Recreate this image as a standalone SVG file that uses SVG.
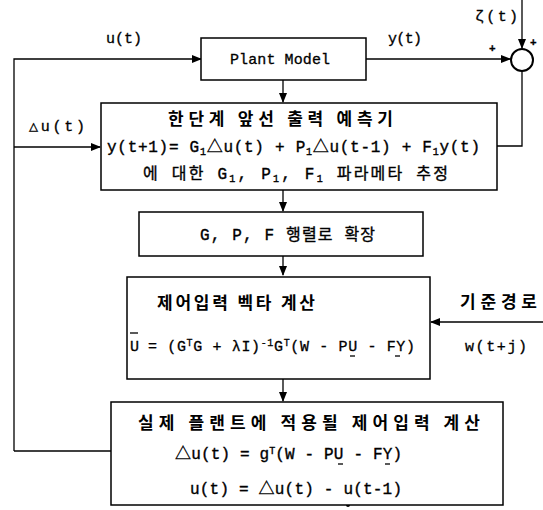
<svg xmlns="http://www.w3.org/2000/svg" width="543" height="510" viewBox="0 0 543 510">
<style>
.box{fill:#fff;stroke:#000;stroke-width:1.5}
.ln{fill:none;stroke:#000;stroke-width:1.3}
.t{font-family:'Liberation Mono','DejaVu Sans Mono','Noto Sans CJK KR',monospace;font-size:15px;fill:#000;stroke:#000;stroke-width:0.3}
.k{font-family:'Noto Sans CJK KR',sans-serif;font-size:17px;font-weight:bold;fill:#000}
.m{font-family:'Liberation Mono','Noto Sans CJK KR',monospace;font-size:16px;fill:#000;stroke:#000;stroke-width:0.35}
.s{font-size:10px}
</style>
<defs>
<marker id="ah" markerUnits="userSpaceOnUse" markerWidth="10" markerHeight="8" refX="9" refY="4" orient="auto">
<path d="M0,0 L10,4 L0,8 z" fill="#000"/>
</marker>
</defs>
<g id="connectors">
<path class="ln" d="M14,451 L14,59 L201,59" marker-end="url(#ah)"/>
<path class="ln" d="M14,147 L100,147" marker-end="url(#ah)"/>
<path class="ln" d="M111,451 L14,451"/>
<path class="ln" d="M366,59 L510,59" marker-end="url(#ah)"/>
<path class="ln" d="M522,0 L522,48" marker-end="url(#ah)"/>
<path class="ln" d="M522,71 L522,146 L497,146"/>
<path class="ln" d="M283,80 L283,102" marker-end="url(#ah)"/>
<path class="ln" d="M283,190 L283,211" marker-end="url(#ah)"/>
<path class="ln" d="M283,256 L283,275" marker-end="url(#ah)"/>
<path class="ln" d="M283,379 L283,401" marker-end="url(#ah)"/>
<path class="ln" d="M543,322 L431,322" marker-end="url(#ah)"/>
<circle cx="348" cy="505" r="2" fill="#000"/>
</g>
<g id="sum">
<circle cx="522" cy="60" r="11" fill="#fff" stroke="#000" stroke-width="2"/>
<text class="t" x="489" y="52" style="font-size:11px;font-weight:bold">+</text>
<text class="t" x="530" y="46" style="font-size:11px;font-weight:bold">+</text>
</g>
<g id="labels">
<text class="t" x="475" y="21" textLength="43" lengthAdjust="spacing">ζ(t)</text>
<text class="t" x="106" y="43" textLength="36" lengthAdjust="spacing">u(t)</text>
<text class="t" x="388" y="43" textLength="34" lengthAdjust="spacing">y(t)</text>
<text class="t" x="29" y="131" textLength="56" lengthAdjust="spacing">△u(t)</text>
<text class="k" x="460" y="308" textLength="77" lengthAdjust="spacing">기준경로</text>
<text class="t" x="465" y="351" textLength="62" lengthAdjust="spacing">w(t+j)</text>
</g>
<g id="plant">
<rect class="box" x="201" y="38" width="165" height="42"/>
<text class="t" x="230" y="64" textLength="100" lengthAdjust="spacing">Plant Model</text>
</g>
<g id="predictor">
<rect class="box" x="101" y="103" width="396" height="87"/>
<text class="k" x="168" y="125" textLength="225" lengthAdjust="spacing">한단계 앞선 출력 예측기</text>
<text class="m" x="107" y="152" textLength="373" lengthAdjust="spacing">y(t+1)= G<tspan class="s" dy="3">1</tspan><tspan dy="-3">△u(t) + P</tspan><tspan class="s" dy="3">1</tspan><tspan dy="-3">△u(t-1) + F</tspan><tspan class="s" dy="3">1</tspan><tspan dy="-3">y(t)</tspan></text>
<text class="m" x="143" y="179" textLength="305" lengthAdjust="spacing">에 대한 G<tspan class="s" dy="3">1</tspan><tspan dy="-3">, P</tspan><tspan class="s" dy="3">1</tspan><tspan dy="-3">, F</tspan><tspan class="s" dy="3">1</tspan><tspan dy="-3"> 파라메타 추정</tspan></text>
</g>
<g id="expand">
<rect class="box" x="139" y="212" width="284" height="44"/>
<text class="m" x="200" y="240" textLength="175" lengthAdjust="spacing">G, P, F 행렬로 확장</text>
</g>
<g id="control">
<rect class="box" x="127" y="277" width="303" height="102"/>
<text class="k" x="157" y="309" textLength="158" lengthAdjust="spacing">제어입력 벡타 계산</text>
<text class="t" x="130" y="351">U</text>
<line class="ln" x1="130" y1="333" x2="138" y2="333"/>
<text class="t" x="148" y="351" textLength="267" lengthAdjust="spacing">= (G<tspan class="s" dy="-5">T</tspan><tspan dy="5">G + λI)</tspan><tspan class="s" dy="-5">-1</tspan><tspan dy="5">G</tspan><tspan class="s" dy="-5">T</tspan><tspan dy="5">(W - PU - FY)</tspan></text>
<line class="ln" x1="350" y1="356" x2="355" y2="356"/>
<line class="ln" x1="395" y1="356" x2="400" y2="356"/>
</g>
<g id="apply">
<rect class="box" x="111" y="402" width="392" height="103"/>
<text class="k" x="138" y="429" textLength="342" lengthAdjust="spacing">실제 플랜트에 적용될 제어입력 계산</text>
<text class="m" x="175" y="459" textLength="227" lengthAdjust="spacing">△u(t) = g<tspan class="s" dy="-5">T</tspan><tspan dy="5">(W - PU - FY)</tspan></text>
<line class="ln" x1="338" y1="464" x2="343" y2="464"/>
<line class="ln" x1="385" y1="464" x2="390" y2="464"/>
<text class="m" x="190" y="494" textLength="212" lengthAdjust="spacing">u(t) = △u(t) - u(t-1)</text>
</g>
</svg>
